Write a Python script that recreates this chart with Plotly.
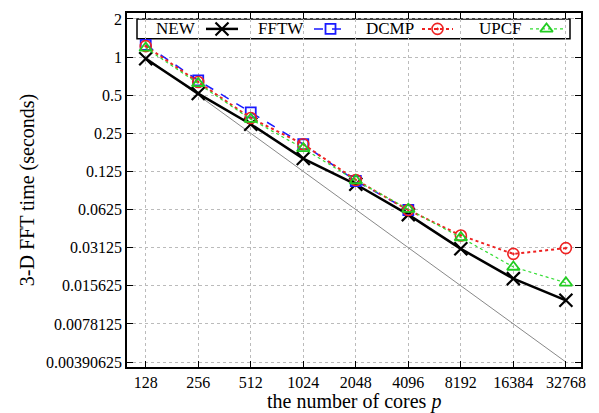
import math
import plotly.graph_objects as go

cores = [128, 256, 512, 1024, 2048, 4096, 8192, 16384, 32768]
tick_labels = ["128", "256", "512", "1024", "2048", "4096", "8192", "16384", "32768"]
new_t = [0.97, 0.515, 0.295, 0.158, 0.099, 0.057, 0.0306, 0.0178, 0.012]
fftw_cores = [128, 256, 512, 1024, 2048, 4096]
fftw_t = [1.25, 0.655, 0.366, 0.205, 0.105, 0.062]
dcmp_t = [1.22, 0.635, 0.33, 0.205, 0.107, 0.062, 0.039, 0.0279, 0.031]
upcf_t = [1.18, 0.62, 0.323, 0.19, 0.106, 0.063, 0.0376, 0.022, 0.0165]
ideal_x = [128, 32768]
ideal_y = [1.0, 0.00390625]
y_ticks = [2, 1, 0.5, 0.25, 0.125, 0.0625, 0.03125, 0.015625, 0.0078125, 0.00390625]
y_labels = ["2", "1", "0.5", "0.25", "0.125", "0.0625", "0.03125", "0.015625", "0.0078125", "0.00390625"]
series_names = ["NEW", "FFTW", "DCMP", "UPCF"]

FONT = "Liberation Serif"

# plot area in pixels
L, R, T, B = 127, 581, 11, 367
W, H = 599, 413

styles = {
    "NEW": dict(line=dict(color="black", width=2.5),
                marker=dict(symbol="x-thin-open", size=13, color="black",
                            line=dict(color="black", width=2.2))),
    "FFTW": dict(line=dict(color="#1a1aff", width=1.5, dash="dash"),
                 marker=dict(symbol="square-open", size=10, color="#1a1aff", line=dict(width=1.8))),
    "DCMP": dict(line=dict(color="#ee2222", width=2, dash="dot"),
                 marker=dict(symbol="circle-open-dot", size=11, color="#ee2222", line=dict(width=1.6))),
    "UPCF": dict(line=dict(color="#33dd33", width=1.2, dash="dot"),
                 marker=dict(symbol="triangle-up-open", size=11, color="#22cc22", line=dict(width=1.8))),
}
series_x = {"NEW": cores, "FFTW": fftw_cores, "DCMP": cores, "UPCF": cores}
series_y = {"NEW": new_t, "FFTW": fftw_t, "DCMP": dcmp_t, "UPCF": upcf_t}

fig = go.Figure()
fig.add_trace(go.Scatter(x=ideal_x, y=ideal_y, mode="lines", showlegend=False,
                         line=dict(color="#888888", width=1), hoverinfo="skip"))
for n in series_names:
    fig.add_trace(go.Scatter(x=series_x[n], y=series_y[n], name=n, mode="lines+markers",
                             showlegend=False, **styles[n]))

# gnuplot-style key: label followed by a line sample, drawn on a pixel-unit overlay axis
key_text_right = [198, 306, 416, 524]
key_sample = [(206, 238), (314, 347), (422, 453), (530, 563)]
key_y = 27
for n, tx, (s0, s1) in zip(series_names, key_text_right, key_sample):
    fig.add_trace(go.Scatter(x=[s0, (s0 + s1) / 2, s1], y=[key_y, key_y, key_y],
                             mode="lines", xaxis="x2", yaxis="y2", showlegend=False,
                             line=styles[n]["line"], hoverinfo="skip"))
    fig.add_trace(go.Scatter(x=[(s0 + s1) / 2], y=[key_y], mode="markers",
                             xaxis="x2", yaxis="y2", showlegend=False,
                             marker=styles[n]["marker"], hoverinfo="skip"))
    fig.add_annotation(x=tx, y=key_y, xref="x2", yref="y2", text=n, showarrow=False,
                       xanchor="right", yanchor="middle",
                       font=dict(family=FONT, size=17, color="black"))

fig.add_shape(type="rect", xref="x2", yref="y2", x0=137, x1=570, y0=17, y1=37,
              line=dict(color="black", width=1.5), fillcolor="white", layer="below")

# x-axis title placed as an annotation so it sits where the reference has it
fig.add_annotation(x=0.5, y=-(402 - B) / (B - T), xref="paper", yref="paper",
                   text="the number of cores <i>p</i>", showarrow=False,
                   xanchor="center", yanchor="middle",
                   font=dict(family=FONT, size=20, color="black"))

fig.update_layout(
    width=W, height=H,
    margin=dict(l=L, r=W - R, t=T, b=H - B),
    paper_bgcolor="white", plot_bgcolor="white",
    font=dict(family=FONT, size=16, color="black"),
    showlegend=False,
    xaxis2=dict(overlaying="x", range=[L, R], visible=False, fixedrange=True),
    yaxis2=dict(overlaying="y", range=[B, T], visible=False, fixedrange=True),
    xaxis=dict(type="log", range=[math.log10(100), math.log10(40000)],
               tickvals=cores, ticktext=tick_labels,
               ticks="inside", ticklen=6, tickcolor="black", mirror="allticks",
               showline=True, linecolor="black", linewidth=1.5,
               showgrid=True, gridcolor="#bbbbbb", griddash="dot", gridwidth=1,
               zeroline=False, tickfont=dict(family=FONT, size=16)),
    yaxis=dict(type="log", range=[-8.13 * math.log10(2), 1.156 * math.log10(2)],
               tickvals=y_ticks, ticktext=y_labels,
               ticks="inside", ticklen=6, tickcolor="black", mirror="allticks",
               showline=True, linecolor="black", linewidth=1.5,
               showgrid=True, gridcolor="#bbbbbb", griddash="dot", gridwidth=1,
               zeroline=False, tickfont=dict(family=FONT, size=16),
               title=dict(text="3-D FFT time (seconds)", font=dict(family=FONT, size=20), standoff=6)),
)

fig.write_html("out.html", config={"displayModeBar": False},
               post_script="document.body.style.margin='0';document.body.style.overflow='hidden';")
